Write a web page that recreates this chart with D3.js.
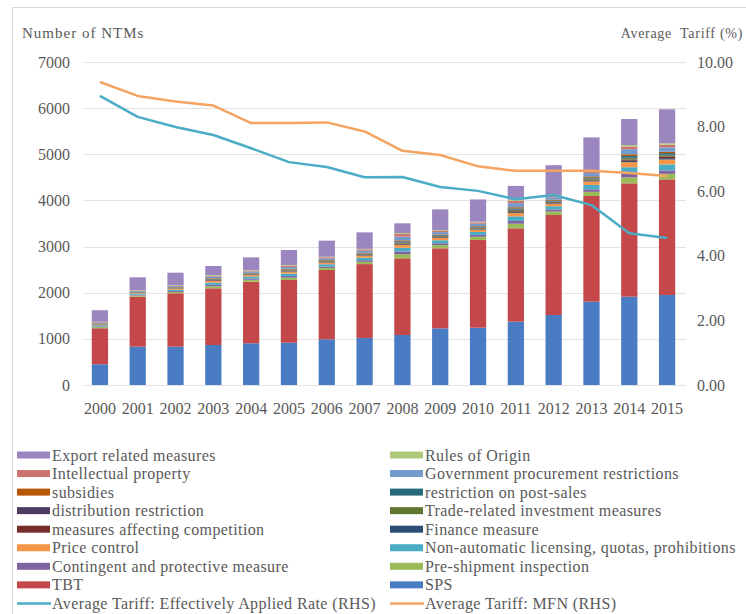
<!DOCTYPE html>
<html><head><meta charset="utf-8">
<script src="https://cdn.jsdelivr.net/npm/d3@7"></script>
<style>
html,body{margin:0;padding:0;background:#fff;}
svg{display:block;}
svg text{font-family:"Liberation Serif","DejaVu Serif","Times New Roman",serif;}
</style></head>
<body><svg id="c" width="746" height="614"></svg>
<script>
const years = ["2000","2001","2002","2003","2004","2005","2006","2007","2008","2009","2010","2011","2012","2013","2014","2015"];
// stacked series, bottom to top
const sps          = [450,830,830,867,904,917,990,1020,1084,1228,1242,1373,1517,1806,1914,1951];
const tbt          = [780,1085,1157,1228,1336,1359,1502,1600,1661,1734,1900,2022,2167,2290,2456,2505];
const preShipment  = [25,25,30,45,40,50,45,50,90,70,70,100,75,90,130,120];
const contingent   = [15,15,20,30,25,35,30,35,60,40,40,60,45,55,80,75];
const nonAutomatic = [25,25,30,50,45,55,50,55,80,65,65,100,70,95,140,130];
const priceControl = [15,15,20,35,30,40,35,40,60,50,50,70,55,75,110,105];
const finance      = [5,5,5,10,10,10,10,10,15,12,12,20,15,20,30,30];
const competition  = [5,5,5,10,8,10,10,10,15,12,12,20,15,18,25,30];
const trims        = [5,5,8,12,10,12,10,12,20,15,15,25,15,20,30,30];
const distribution = [3,3,4,6,5,6,5,6,10,8,8,12,8,10,15,15];
const postSales    = [5,5,6,10,8,10,10,12,20,15,15,25,18,22,35,35];
const subsidies    = [5,5,8,12,10,15,12,15,20,15,15,25,18,22,35,30];
const govProc      = [15,15,20,35,30,40,35,45,80,50,50,90,50,70,110,95];
const intellectual = [12,12,14,20,20,30,25,30,60,30,30,50,35,45,60,55];
const rulesOrigin  = [5,8,10,14,11,12,12,10,19,15,14,23,11,22,31,31];
const exportRel    = [250,276,267,195,275,325,347,358,210,448,483,300,650,706,564,738];
// tariff lines (RHS, %)
const effRate = [8.95,8.30,7.99,7.74,7.33,6.90,6.75,6.43,6.44,6.13,6.01,5.75,5.88,5.57,4.70,4.55];
const mfnRate = [9.38,8.95,8.78,8.65,8.11,8.11,8.13,7.85,7.25,7.12,6.77,6.63,6.63,6.63,6.56,6.47];
const leftTicks = [0,1000,2000,3000,4000,5000,6000,7000];
const rightTicks = [0,2,4,6,8,10];

const seriesNames = ["SPS","TBT","Pre-shipment inspection","Contingent and protective measure",
 "Non-automatic licensing, quotas, prohibitions","Price control","Finance measure",
 "measures affecting competition","Trade-related investment measures","distribution restriction",
 "restriction on post-sales","subsidies","Government procurement restrictions","Intellectual property",
 "Rules of Origin","Export related measures"];
const seriesVals = [sps,tbt,preShipment,contingent,nonAutomatic,priceControl,finance,competition,trims,
 distribution,postSales,subsidies,govProc,intellectual,rulesOrigin,exportRel];
const seriesColors = ["#4A7CC4","#C4474A","#9BBB59","#8064A2","#4BACC6","#F79646","#2C4D75","#772C2A",
 "#5F7530","#4D3B62","#276A7C","#B65708","#729ACA","#CD7371","#AFC97A","#9B86C0"];
const effColor = "#4BACC6", mfnColor = "#F4A462";

const svg = d3.select("#c");
const textColor = "#595959";

// chart border
svg.append("rect").attr("x",12.5).attr("y",7.5).attr("width",760).attr("height",640)
  .attr("fill","none").attr("stroke","#D9D9D9");

const x = d3.scaleBand().domain(years).range([81,686]).paddingInner(0.57).paddingOuter(0.285);
const yL = d3.scaleLinear().domain([0,7000]).range([385,62]);
const yR = d3.scaleLinear().domain([0,10]).range([385,62]);

// gridlines
svg.append("g").selectAll("line").data(leftTicks).join("line")
  .attr("x1",83).attr("x2",686).attr("y1",d=>Math.round(yL(d))+0.5).attr("y2",d=>Math.round(yL(d))+0.5)
  .attr("stroke","#E3E3E3").attr("stroke-width",1);

// left axis labels
const axL = d3.axisLeft(yL).tickValues(leftTicks).tickSize(0).tickPadding(0).tickFormat(d3.format("d"));
const gL = svg.append("g").attr("transform","translate(70,0)").call(axL);
gL.select(".domain").remove();
gL.attr("font-family",null).attr("font-size",null);
gL.selectAll("text").attr("fill",textColor).style("font-size","16px");

// right axis labels
const axR = d3.axisRight(yR).tickValues(rightTicks).tickSize(0).tickPadding(0).tickFormat(d3.format(".2f"));
const gR = svg.append("g").attr("transform","translate(697,0)").call(axR);
gR.select(".domain").remove();
gR.attr("font-family",null).attr("font-size",null);
gR.selectAll("text").attr("fill",textColor).style("font-size","16px");

// x axis labels
const axB = d3.axisBottom(x).tickSize(0).tickPadding(0);
const gB = svg.append("g").attr("transform","translate(0,403)").call(axB);
gB.select(".domain").remove();
gB.attr("font-family",null).attr("font-size",null);
gB.selectAll("text").attr("fill",textColor).style("font-size","16px");

// stacked bars
const table = years.map((yr,i)=>{const o={year:yr}; seriesNames.forEach((n,k)=>o[n]=seriesVals[k][i]); return o;});
const stack = d3.stack().keys(seriesNames)(table);
svg.append("g").selectAll("g").data(stack).join("g")
  .attr("fill",(d,i)=>seriesColors[i])
  .selectAll("rect").data(d=>d).join("rect")
  .attr("x",d=>x(d.data.year)).attr("width",x.bandwidth())
  .attr("y",d=>yL(d[1])).attr("height",d=>yL(d[0])-yL(d[1]));

// lines
const line = vals => d3.line().x((d,i)=>x(years[i])+x.bandwidth()/2).y(d=>yR(d))(vals);
svg.append("path").attr("d",line(effRate)).attr("fill","none").attr("stroke",effColor)
  .attr("stroke-width",2.5).attr("stroke-linejoin","round");
svg.append("path").attr("d",line(mfnRate)).attr("fill","none").attr("stroke",mfnColor)
  .attr("stroke-width",2.5).attr("stroke-linejoin","round");

// axis titles
svg.append("text").attr("x",22).attr("y",38).attr("fill",textColor).style("font-size","15px")
  .style("letter-spacing","1px").text("Number of NTMs");
svg.append("text").attr("x",743).attr("y",38).attr("text-anchor","end").attr("fill",textColor).style("font-size","14px")
  .style("letter-spacing","0.7px").attr("xml:space","preserve").text("Average  Tariff (%)");

// legend (two columns, legend order)
const legendItems = [
 {n:"Export related measures",t:"bar"},{n:"Rules of Origin",t:"bar"},
 {n:"Intellectual property",t:"bar"},{n:"Government procurement restrictions",t:"bar"},
 {n:"subsidies",t:"bar"},{n:"restriction on post-sales",t:"bar"},
 {n:"distribution restriction",t:"bar"},{n:"Trade-related investment measures",t:"bar"},
 {n:"measures affecting competition",t:"bar"},{n:"Finance measure",t:"bar"},
 {n:"Price control",t:"bar"},{n:"Non-automatic licensing, quotas, prohibitions",t:"bar"},
 {n:"Contingent and protective measure",t:"bar"},{n:"Pre-shipment inspection",t:"bar"},
 {n:"TBT",t:"bar"},{n:"SPS",t:"bar"},
 {n:"Average Tariff: Effectively Applied Rate (RHS)",t:"line",c:effColor},
 {n:"Average Tariff: MFN (RHS)",t:"line",c:mfnColor}
];
const lg = svg.append("g").selectAll("g").data(legendItems).join("g")
  .attr("transform",(d,i)=>`translate(${i%2===0?17:390},${455+Math.floor(i/2)*18.55})`);
lg.filter(d=>d.t==="bar").append("rect").attr("x",0).attr("y",-3.5).attr("width",33).attr("height",7)
  .attr("fill",d=>seriesColors[seriesNames.indexOf(d.n)]);
lg.filter(d=>d.t==="line").append("line").attr("x1",0).attr("x2",34).attr("y1",0).attr("y2",0)
  .attr("stroke",d=>d.c).attr("stroke-width",2.5);
lg.append("text").attr("x",35).attr("y",0).attr("dy","0.35em").attr("fill",textColor)
  .style("font-size","16px").style("letter-spacing","0.4px").text(d=>d.n);
</script></body></html>
